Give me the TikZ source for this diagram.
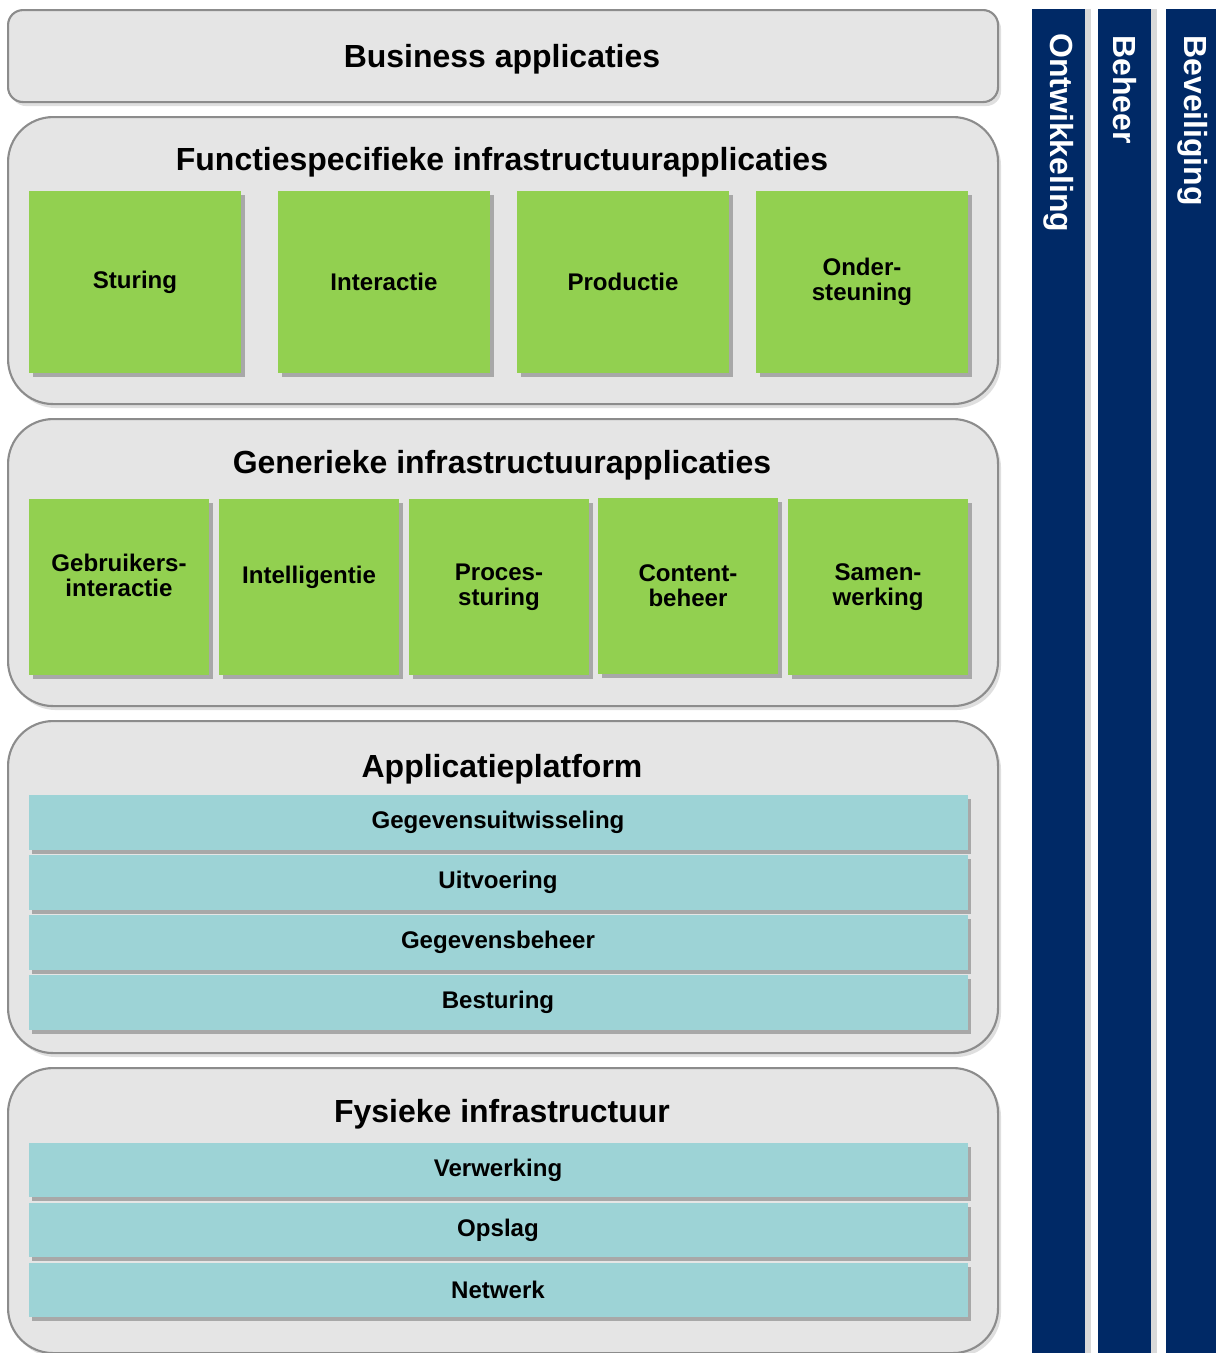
\documentclass[tikz,border=0pt]{standalone}
\usepackage{fontspec}
\setmainfont{Liberation Sans}
\usetikzlibrary{shadows}
\newlength\pxu
\setlength\pxu{0.02cm}
\definecolor{panelfill}{HTML}{E5E5E5}
\definecolor{panelline}{HTML}{8C8C8C}
\definecolor{leafgreen}{HTML}{92D050}
\definecolor{layerblue}{HTML}{9DD3D6}
\definecolor{pillarblue}{HTML}{002966}

\begin{document}
\begin{tikzpicture}[x=0.02cm,y=-0.02cm,
    panel/.style={draw=panelline,line width=1.2pt,fill=panelfill,rounded corners=0.9cm,anchor=north west,inner sep=0pt,
        minimum width=990\pxu,drop shadow={shadow xshift=3\pxu,shadow yshift=-4\pxu,opacity=0.25}},
    title/.style={font=\bfseries\fontsize{18.2}{20}\selectfont,anchor=base,inner sep=0pt},
    leaf/.style={fill=leafgreen,inner sep=0pt,align=center,font=\bfseries\fontsize{13.7}{14.3}\selectfont,
        drop shadow={shadow xshift=4\pxu,shadow yshift=-4\pxu,opacity=0.6}},
    layer/.style={fill=layerblue,inner sep=0pt,minimum width=939\pxu,font=\bfseries\fontsize{13.7}{14.3}\selectfont,
        drop shadow={shadow xshift=3\pxu,shadow yshift=-4\pxu,opacity=0.6}},
    pillar/.style={fill=pillarblue,anchor=north west,inner sep=0pt,minimum width=53\pxu,minimum height=1360\pxu,
        drop shadow={shadow xshift=6\pxu,shadow yshift=0pt,opacity=0.3}},
    pillartext/.style={text=white,font=\bfseries\fontsize{18.2}{20}\selectfont,rotate=-90,anchor=west,inner sep=0pt}]

    \useasboundingbox (0,0) rectangle (1215,1353);

    % lagen
    \node (bus) at (7,9) [panel,rounded corners=0.3cm,minimum height=92\pxu] {};
    \node (fun) at (7,116) [panel,minimum height=287\pxu] {};
    \node (gen) at (7,418) [panel,minimum height=287\pxu] {};
    \node (app) at (7,720) [panel,minimum height=332\pxu] {};
    \node (fys) at (7,1067) [panel,minimum height=285\pxu] {};

    \node (bus-t) at (502,67) [title] {Business applicaties};
    \node (fun-t) at (502,170) [title] {Functiespecifieke infrastructuurapplicaties};
    \node (gen-t) at (502,473) [title] {Generieke infrastructuurapplicaties};
    \node (app-t) at (502,777) [title] {Applicatieplatform};
    \node (fys-t) at (502,1122) [title] {Fysieke infrastructuur};

    % functiespecifiek
    \node (f1) at (135,282) [leaf,minimum width=212\pxu,minimum height=182\pxu] {Sturing};
    \node (f2) at (384,282) [leaf,minimum width=212\pxu,minimum height=182\pxu] {Interactie};
    \node (f3) at (623,282) [leaf,minimum width=212\pxu,minimum height=182\pxu] {Productie};
    \node (f4) at (862,282) [leaf,minimum width=212\pxu,minimum height=182\pxu] {Onder-\\steuning};

    % generiek
    \node (g1) at (119,587) [leaf,minimum width=180\pxu,minimum height=176\pxu] {};
    \node (g2) at (309,587) [leaf,minimum width=180\pxu,minimum height=176\pxu] {};
    \node (g3) at (499,587) [leaf,minimum width=180\pxu,minimum height=176\pxu] {Proces-\\sturing};
    \node (g4) at (688,586) [leaf,minimum width=180\pxu,minimum height=176\pxu] {Content-\\beheer};
    \node (g5) at (878,587) [leaf,minimum width=180\pxu,minimum height=176\pxu] {Samen-\\werking};
    \node (g1-t) at (119,575) [align=center,inner sep=0pt,font=\bfseries\fontsize{13.7}{14.3}\selectfont] {Gebruikers-\\interactie};
    \node (g2-t) at (309,577) [inner sep=0pt,font=\bfseries\fontsize{13.7}{14.3}\selectfont] {Intelligentie};

    % applicatieplatform
    \node (a1) at (498,822) [layer,minimum height=55\pxu] {Gegevensuitwisseling};
    \node (a2) at (498,882) [layer,minimum height=55\pxu] {Uitvoering};
    \node (a3) at (498,942) [layer,minimum height=55\pxu] {Gegevensbeheer};
    \node (a4) at (498,1002) [layer,minimum height=55\pxu] {Besturing};

    % fysiek
    \node (p1) at (498,1170) [layer,minimum height=54\pxu] {Verwerking};
    \node (p2) at (498,1230) [layer,minimum height=54\pxu] {Opslag};
    \node (p3) at (498,1290) [layer,minimum height=54\pxu] {Netwerk};

    % kolommen
    \node (ontw) at (1032,9) [pillar] {};
    \node (beh) at (1098,9) [pillar] {};
    \node (bev) at (1166,9) [pillar] {};
    \node (ontw-t) at (1059,33) [pillartext] {Ontwikkeling};
    \node (beh-t) at (1125,35) [pillartext] {Beheer};
    \node (bev-t) at (1193,35) [pillartext] {Beveiliging};

\end{tikzpicture}
\end{document}
